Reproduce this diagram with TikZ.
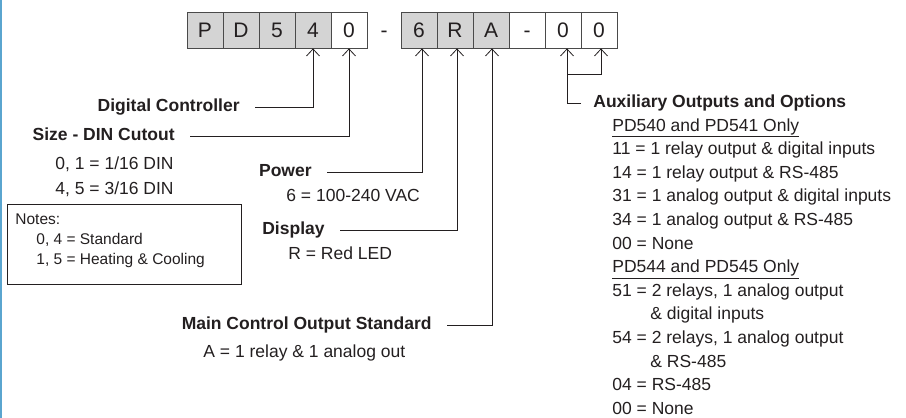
\documentclass[tikz,border=0pt]{standalone}
\usepackage{fontspec}
\setmainfont{Liberation Sans}
\usetikzlibrary{arrows.meta}
\usetikzlibrary{positioning}

\definecolor{ink}{HTML}{231F20}
\definecolor{cellgray}{HTML}{D4D4D4}
\definecolor{celledge}{HTML}{4A4A4A}
\definecolor{edgeblue}{HTML}{5AA5CF}

\begin{document}
\begin{tikzpicture}[x=1pt,y=-1pt,color=ink,line width=0.8pt,
    >={Straight Barb[length=7pt,width=13pt,line width=0.8pt]},
    cell/.style={draw=celledge,minimum width=36pt,minimum height=36pt,inner sep=0pt,
      font=\fontsize{21}{25}\selectfont,text height=15pt,text depth=0pt},
    head/.style={font=\fontsize{17.5}{21}\selectfont\bfseries,inner sep=0pt,text height=12.5pt,text depth=3.5pt},
    item/.style={font=\fontsize{17.5}{21}\selectfont,inner sep=0pt,anchor=west,text height=12.5pt,text depth=3.5pt},
    note/.style={font=\fontsize{15.5}{19}\selectfont,inner sep=0pt,anchor=west,text height=11pt,text depth=3pt},
    lead/.style={->,shorten <=15pt}]
   \useasboundingbox (0,0) rectangle (906,418);
   \fill[edgeblue] (0,0) rectangle (1.5,418);
   % model code cells
   \foreach \ch/\x/\fillc [count=\i] in {P/205/cellgray,D/241/cellgray,5/277/cellgray,4/313/cellgray,0/349/white,
       6/419/cellgray,R/455/cellgray,A/491/cellgray,-/527/white,0/563/white,0/599/white}
     \node[cell,fill=\fillc] (c\i) at (\x,30) {\ch};
   \node[font=\fontsize{21}{25}\selectfont,inner sep=0pt,text height=15pt,text depth=0pt] (dash) at (384,30) {-};

   % left side fields
   \node[head,anchor=east] (digital) at (240,107) {Digital Controller};
   \node[head,anchor=east] (size) at (175,136) {Size - DIN Cutout};
   \node[item] (size1) at (55,165) {0, 1 = 1/16 DIN};
   \node[item] (size2) at (55,190) {4, 5 = 3/16 DIN};
   \node[draw,anchor=north west,minimum width=234pt,minimum height=80pt,inner sep=0pt] (notes) at (7,204) {};
   \node[note] (notehead) at (15,220) {Notes:};
   \node[note] (note1) at (36,240) {0, 4 = Standard};
   \node[note] (note2) at (36,260) {1, 5 = Heating \& Cooling};
   \node[head,anchor=east] (power) at (312,172) {Power};
   \node[item] (power1) at (286,197) {6 = 100-240 VAC};
   \node[head,anchor=east] (display) at (325,230) {Display};
   \node[item] (display1) at (288,255) {R = Red LED};
   \node[head,anchor=east] (main) at (432,325) {Main Control Output Standard};
   \node[item] (main1) at (203,353) {A = 1 relay \& 1 analog out};

   \draw[lead] (digital.east) -| (c4.south);
   \draw[lead] (size.east) -| (c5.south);
   \draw[lead] (power.east) -| ([xshift=3pt]c6.south);
   \draw[lead] (display.east) -| ([xshift=2pt]c7.south);
   \draw[lead] (main.east) -| ([xshift=1pt]c8.south);

   % auxiliary outputs
   \node[head,anchor=west] (aux) at (593,103) {Auxiliary Outputs and Options};
   \node[item] (grp1) at (612,126.6) {\underline{PD540 and PD541 Only}};
   \node[item] (a11) at (612,150.2) {11 = 1 relay output \& digital inputs};
   \node[item] (a14) at (612,173.8) {14 = 1 relay output \& RS-485};
   \node[item] (a31) at (612,197.4) {31 = 1 analog output \& digital inputs};
   \node[item] (a34) at (612,221) {34 = 1 analog output \& RS-485};
   \node[item] (a00) at (612,244.6) {00 = None};
   \node[item] (grp2) at (612,268.2) {\underline{PD544 and PD545 Only}};
   \node[item] (b51) at (612,291.8) {51 = 2 relays, 1 analog output};
   \node[item] (b51b) at (650,315.4) {\& digital inputs};
   \node[item] (b54) at (612,339) {54 = 2 relays, 1 analog output};
   \node[item] (b54b) at (650,362.6) {\& RS-485};
   \node[item] (b04) at (612,386.2) {04 = RS-485};
   \node[item] (b00) at (612,409.8) {00 = None};

   \coordinate (split) at (567,74);
   \draw[->,shorten <=12pt] (aux.west) -| ([xshift=4pt]c10.south);
   \draw[->] (split) -| ([xshift=2pt]c11.south);
\end{tikzpicture}
\end{document}
